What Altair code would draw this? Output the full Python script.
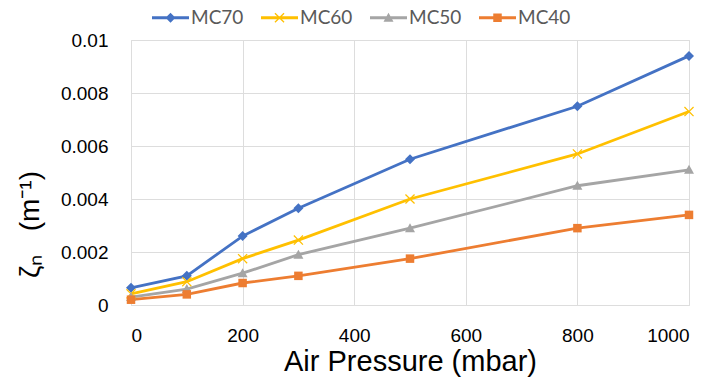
import altair as alt
import pandas as pd

pressure = [0, 100, 200, 300, 500, 800, 1000]
series_names = ["MC70", "MC60", "MC50", "MC40"]
mc70 = [0.00065, 0.0011, 0.0026, 0.00365, 0.0055, 0.0075, 0.0094]
mc60 = [0.00042, 0.00088, 0.00175, 0.00245, 0.0040, 0.0057, 0.0073]
mc50 = [0.0003, 0.0006, 0.0012, 0.0019, 0.0029, 0.0045, 0.0051]
mc40 = [0.0002, 0.0004, 0.00083, 0.0011, 0.00175, 0.0029, 0.0034]
colors = ["#4472C4", "#FFC000", "#A5A5A5", "#ED7D31"]

# marker glyphs (unit-square paths)
diamond = "M0,-1L1,0L0,1L-1,0Z"
x_mark = ("M-1,-0.82L-0.82,-1L0,-0.18L0.82,-1L1,-0.82L0.18,0L1,0.82L0.82,1"
          "L0,0.18L-0.82,1L-1,0.82L-0.18,0Z")
triangle = "M0,-1L1,0.8L-1,0.8Z"
square = "M-0.85,-0.85L0.85,-0.85L0.85,0.85L-0.85,0.85Z"
marker_shapes = [diamond, x_mark, triangle, square]
# legend glyphs: a short line segment with the marker on it
seg = "M-3.7,-0.28L3.7,-0.28L3.7,0.28L-3.7,0.28Z"
legend_shapes = [seg + m for m in marker_shapes]

rows = []
for name, vals in zip(series_names, [mc70, mc60, mc50, mc40]):
    for p, v in zip(pressure, vals):
        rows.append({"pressure": p, "zeta": v, "series": name})
df = pd.DataFrame(rows)

FONT = "Lato"
TXT = "#595959"
NB = "\u00a0"

x = alt.X("pressure:Q", scale=alt.Scale(domain=[0, 1000], nice=False),
          axis=alt.Axis(values=[0, 200, 400, 600, 800, 1000], format="d",
                        title="Air Pressure (mbar)",
                        grid=True, domain=False, ticks=False, labelFontSize=19,
                        labelPadding=21, titleFontSize=29, titlePadding=2,
                        titleFontWeight="normal"))
y = alt.Y("zeta:Q", scale=alt.Scale(domain=[0, 0.01], nice=False),
          axis=alt.Axis(values=[0, 0.002, 0.004, 0.006, 0.008, 0.01], format=".2~g",
                        title="ζₙ" + NB * 3 + "(m⁻¹)", grid=True, domain=False, ticks=False,
                        labelFontSize=19, labelPadding=23, titleFontSize=28,
                        titleFontWeight="normal", titleAngle=-90, titleAlign="center",
                        titleBaseline="middle", titleX=-101, titleY=184))

color_nolegend = alt.Color("series:N", scale=alt.Scale(domain=series_names, range=colors),
                           legend=None)

base = alt.Chart(df)
lines = base.mark_line(strokeWidth=2.8).encode(x=x, y=y, color=color_nolegend,
                                                detail="series:N")
points = base.mark_point(filled=True, opacity=1, size=100).encode(
    x=x, y=y, color=color_nolegend,
    shape=alt.Shape("series:N", scale=alt.Scale(domain=series_names, range=marker_shapes),
                    legend=None))

leg = alt.Legend(orient="none", direction="horizontal", title=None,
                 legendX=30, legendY=-32, labelFontSize=19,
                 labelFont=FONT, labelColor=TXT, symbolSize=100,
                 labelOffset=11, columnPadding=17, symbolStrokeWidth=0,
                 symbolOpacity=1)
legend_layer = base.transform_filter("false").mark_point(filled=True, opacity=1).encode(
    x=x, y=y,
    fill=alt.Fill("series:N", scale=alt.Scale(domain=series_names, range=colors),
                  legend=leg),
    shape=alt.Shape("series:N", scale=alt.Scale(domain=series_names, range=legend_shapes),
                    legend=leg),
)

chart = alt.layer(lines, points, legend_layer).resolve_scale(
    shape="independent", fill="independent"
).properties(
    width=558, height=265,
    autosize=alt.AutoSizeParams(type="none"),
    padding={"left": 131, "top": 40, "right": 22, "bottom": 82},
).configure_view(stroke=None).configure_axis(
    gridColor="#D9D9D9", gridWidth=1.3, labelColor=TXT, titleColor=TXT,
    labelFont=FONT, titleFont=FONT
).configure(background="white")

chart.save("out.html", embed_options={"renderer": "svg", "actions": False})
